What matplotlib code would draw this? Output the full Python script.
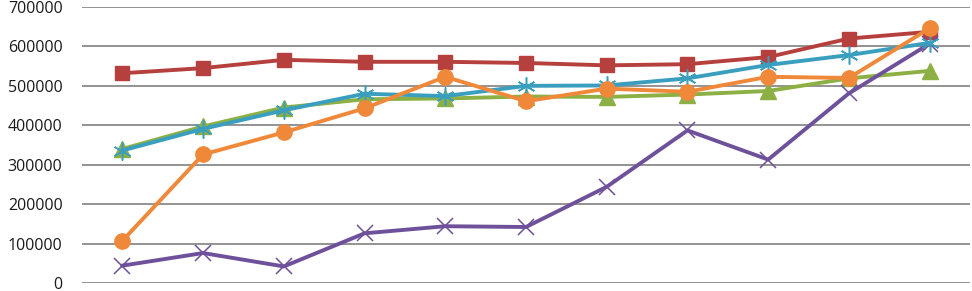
import matplotlib
matplotlib.use("Agg")
import matplotlib.pyplot as plt

x = list(range(11))

red_sq = [532000, 545000, 566000, 561000, 561000, 558000, 552000, 555000, 573000, 620000, 637000]
green_tri = [340000, 397000, 445000, 466000, 468000, 473000, 472000, 478000, 487000, 519000, 538000]
purple_x = [44000, 76000, 42000, 126000, 144000, 142000, 244000, 387000, 313000, 481000, 607000]
blue_star = [336000, 391000, 438000, 480000, 474000, 500000, 501000, 519000, 553000, 578000, 609000]
orange_circ = [107000, 326000, 382000, 443000, 523000, 461000, 493000, 485000, 523000, 520000, 646000]

yticks = [0, 100000, 200000, 300000, 400000, 500000, 600000, 700000]

plt.rcParams['font.family'] = ['Open Sans', 'DejaVu Sans']

fig = plt.figure(figsize=(9.72, 2.91), dpi=100)
ax = fig.add_axes([82 / 972, 1 - 283 / 291, 888 / 972, 276 / 291])

lw = 2.8
ax.plot(x, red_sq, color='#B5403D', lw=lw, marker='s', ms=10, zorder=3)
ax.plot(x, green_tri, color='#8DB044', lw=lw, marker='^', ms=11, zorder=3)
ax.plot(x, purple_x, color='#6F519B', lw=lw, marker='x', ms=12, mew=1.1, zorder=3)
ax.plot(x, blue_star, color='#3A9FBF', lw=lw, marker=(6, 2, 0), ms=13, mew=1.1, zorder=3)
ax.plot(x, orange_circ, color='#F0883A', lw=lw, marker='o', ms=11, zorder=3)

ax.set_xlim(-0.5, 10.5)
ax.set_ylim(0, 700000)
ax.set_yticks(yticks)
ax.set_yticklabels([str(v) for v in yticks], fontsize=11.5, color='#1a1a1a')
ax.set_xticks([])
ax.tick_params(axis='y', length=0, pad=14)
ax.grid(axis='y', color='#8a8a8a', lw=1.3)
ax.set_axisbelow(True)
for s in ax.spines.values():
    s.set_visible(False)

fig.savefig("out.png", dpi=100)
